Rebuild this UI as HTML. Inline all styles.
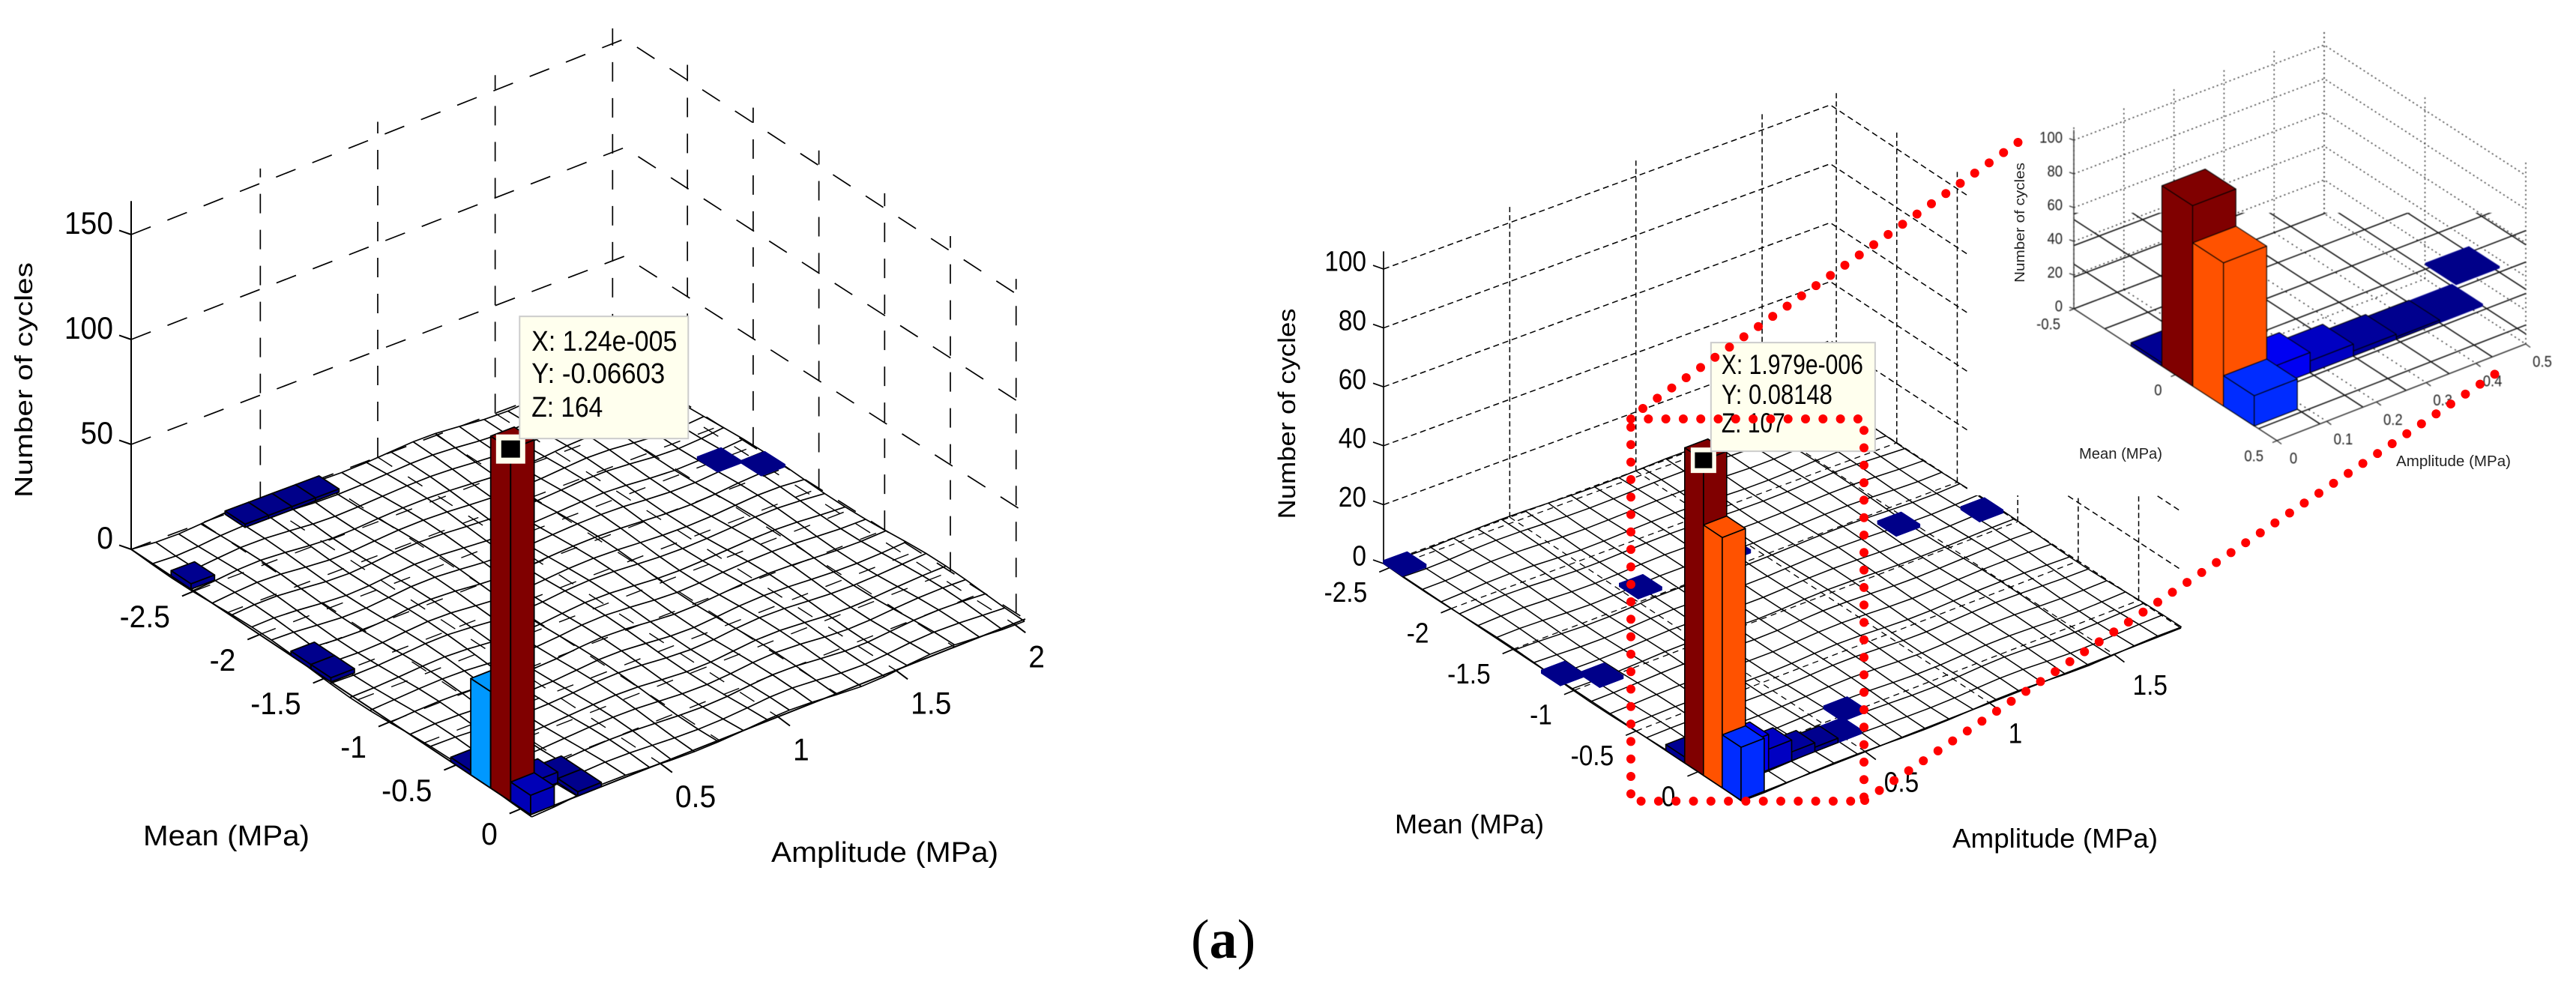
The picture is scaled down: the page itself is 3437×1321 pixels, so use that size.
<!DOCTYPE html>
<html lang="en">
<head>
<meta charset="utf-8">
<title>Rainflow histograms of mean and amplitude stress</title>
<style>
html,body{margin:0;padding:0;background:#fff;}
svg{display:block;font-family:"Liberation Sans",Arial,sans-serif;}
</style>
</head>
<body>
<svg id="fig" xmlns="http://www.w3.org/2000/svg" width="3437" height="1321" viewBox="0 0 3437 1321">
  <rect x="0" y="0" width="3437" height="1321" fill="#fff"/>
  <g id="left-plot"></g>
  <g id="right-plot"></g>
  <rect x="2625" y="0" width="812" height="661" fill="#fff"/>
  <g id="inset-plot" style="filter:blur(0.5px)"></g>

  <text transform="translate(43,507) rotate(-90)" text-anchor="middle" font-size="33" textLength="314" lengthAdjust="spacingAndGlyphs">Number of cycles</text>
  <text x="191" y="1128" font-size="38" textLength="222" lengthAdjust="spacingAndGlyphs">Mean (MPa)</text>
  <text x="1029" y="1150" font-size="38" textLength="303" lengthAdjust="spacingAndGlyphs">Amplitude (MPa)</text>

  <text transform="translate(1728,552) rotate(-90)" text-anchor="middle" font-size="32" textLength="281" lengthAdjust="spacingAndGlyphs">Number of cycles</text>
  <text x="1861" y="1112" font-size="36" textLength="199" lengthAdjust="spacingAndGlyphs">Mean (MPa)</text>
  <text x="2605" y="1131" font-size="36" textLength="274" lengthAdjust="spacingAndGlyphs">Amplitude (MPa)</text>

  <text transform="translate(2701,297) rotate(-90)" text-anchor="middle" font-size="18" fill="#222" textLength="160" lengthAdjust="spacingAndGlyphs">Number of cycles</text>
  <text x="2774" y="612" font-size="20" fill="#222" textLength="111" lengthAdjust="spacingAndGlyphs">Mean (MPa)</text>
  <text x="3197" y="622" font-size="20" fill="#222" textLength="153" lengthAdjust="spacingAndGlyphs">Amplitude (MPa)</text>

  <path d="M2176,559 H2487 V1069 H2176 Z" fill="none" stroke="#f00" stroke-width="12" stroke-linecap="round" stroke-dasharray="0 23.3"/>
  <path d="M2192,545 L2708,179" fill="none" stroke="#f00" stroke-width="12" stroke-linecap="round" stroke-dasharray="0 23.6"/>
  <path d="M2488,1068 L3338,493" fill="none" stroke="#f00" stroke-width="12" stroke-linecap="round" stroke-dasharray="0 23.6"/>

  <text x="1589" y="1278" font-size="74" font-family="'Liberation Serif',serif">(<tspan font-weight="bold">a</tspan>)</text>
</svg>
<script>
// ---- Left chart data ----
const leftAmp   = [0, 0, 0, 0, 0.1, 0.2, 0.2, 0.4, 0.5, 0.6, 0.7, 0, 0, 0, 1.9, 2.0];
const leftMean  = [-0.006, -0.159, -0.311, -0.464, -0.159, -0.159, -0.006, -2.904, -2.904, -2.904, -2.904, -2.599, -1.684, -1.531, -1.989, -1.836];
const leftCount = [9, 164, 45, 2, 5, 2, 2, 1.5, 1.5, 1.5, 1.5, 2.5, 2, 2, 1, 1];
const leftZTicks = [0, 50, 100, 150];
const leftAmpTicks = [0.5, 1, 1.5, 2];
const leftMeanTicks = [-2.5, -2, -1.5, -1, -0.5, 0];
const leftTooltip = ['X: 1.24e-005', 'Y: -0.06603', 'Z: 164'];

// ---- Right chart data ----
const rightAmp   = [0.047, 0.047, 0.047, 0.047, 0.14, 0.233, 0.326, 0.419, 0.513, 0.606, 0.047, 0.559, 1.454, 1.72, 0.028, 0.121, 0.927];
const rightMean  = [0.273, 0.12, -0.032, -0.185, 0.12, 0.12, 0.12, 0.12, 0.12, -0.032, -2.474, -1.604, -1.329, -1.192, -1.154, -1.024, -1.634];
const rightCount = [18, 85, 107, 2, 12, 7, 3, 1.5, 1.2, 1, 1, 1, 1, 1, 1, 1, 1];
const rightZTicks = [0, 20, 40, 60, 80, 100];
const rightAmpTicks = [0.5, 1, 1.5];
const rightMeanTicks = [-2.5, -2, -1.5, -1, -0.5, 0];
const rightTooltip = ['X: 1.979e-006', 'Y: 0.08148', 'Z: 107'];

// ---- Inset data ----
const insetAmp   = [0.043, 0.043, 0.043, 0.043, 0.13, 0.217, 0.303, 0.39, 0.476, 0.571];
const insetMean  = [0.313, 0.162, 0.01, -0.142, 0.162, 0.162, 0.162, 0.162, 0.162, 0.01];
const insetCount = [18, 85, 107, 2, 12, 7, 3, 1.5, 1.2, 1];
const insetZTicks = [0, 20, 40, 60, 80, 100];
const insetAmpTicks = [0, 0.1, 0.2, 0.3, 0.4, 0.5];
const insetMeanTicks = [-0.5, 0, 0.5];

const NS = 'http://www.w3.org/2000/svg';
function make(tag, attrs, parent) {
  const n = document.createElementNS(NS, tag);
  for (const k in attrs) n.setAttribute(k, attrs[k]);
  parent.appendChild(n);
  return n;
}
function clamp(v) { return Math.max(0, Math.min(1, v)); }
function jet(t) {
  const r = clamp(Math.min(4 * t - 1.5, -4 * t + 4.5));
  const g = clamp(Math.min(4 * t - 0.5, -4 * t + 3.5));
  const b = clamp(Math.min(4 * t + 0.5, -4 * t + 2.5));
  return 'rgb(' + Math.round(r * 255) + ',' + Math.round(g * 255) + ',' + Math.round(b * 255) + ')';
}
function project(p, amp, mean, z) {
  const u = (amp - p.ampMin) / (p.ampMax - p.ampMin);
  const v = (mean - p.meanMin) / (p.meanMax - p.meanMin);
  return projectUV(p, u, v, z);
}
function projectUV(p, u, v, z) {
  const a = (1 - u) * (1 - v), b = u * (1 - v), c = (1 - u) * v, d = u * v;
  const x = a * p.L[0] + b * p.B[0] + c * p.F[0] + d * p.R[0];
  const y = a * p.L[1] + b * p.B[1] + c * p.F[1] + d * p.R[1];
  const s = a * p.zs[0] + b * p.zs[1] + c * p.zs[2] + d * p.zs[3];
  return [x, y - z * s];
}
function pts(list) { return list.map(q => q[0].toFixed(1) + ',' + q[1].toFixed(1)).join(' '); }

function drawWalls(g, p) {
  const wall = { fill: 'none', stroke: p.wallColor, 'stroke-width': p.wallWidth, 'stroke-dasharray': p.wallDash };
  p.zTicks.forEach(z => {
    const line = make('polyline', Object.assign({ points: pts([project(p, p.ampMin, p.meanMin, z), project(p, p.ampMax, p.meanMin, z), project(p, p.ampMax, p.meanMax, z)]) }, wall), g);
    
    
  });
  const vert = Object.assign({}, wall, { 'stroke-dasharray': p.vertDash });
  p.ampTicks.forEach(a => {
    const s = project(p, a, p.meanMin, 0), e = project(p, a, p.meanMin, p.zMax);
    const line = make('line', Object.assign({ x1: s[0], y1: s[1], x2: e[0], y2: e[1] }, vert), g);
    
    
  });
  p.meanTicks.forEach(m => {
    const s = project(p, p.ampMax, m, 0), e = project(p, p.ampMax, m, p.zMax);
    const line = make('line', Object.assign({ x1: s[0], y1: s[1], x2: e[0], y2: e[1] }, vert), g);
    
    
  });
}

function drawFloorGrid(g, p) {
  const style = { fill: 'none', stroke: p.wallColor, 'stroke-width': p.floorWidth, 'stroke-dasharray': p.floorDash };
  p.floorAmp.forEach(a => {
    const s = project(p, a, p.meanMin, 0), e = project(p, a, p.meanMax, 0);
    const line = make('line', Object.assign({ x1: s[0], y1: s[1], x2: e[0], y2: e[1] }, style), g);
    
    
  });
  p.floorMean.forEach(m => {
    const s = project(p, p.ampMin, m, 0), e = project(p, p.ampMax, m, 0);
    const line = make('line', Object.assign({ x1: s[0], y1: s[1], x2: e[0], y2: e[1] }, style), g);
    
    
  });
}

function meshPoint(p, i, j) {
  const q = projectUV(p, i / p.na, j / p.nm, 0);
  const w = p.wave;
  return [q[0] + w * 0.5 * Math.sin(i * 1.3 + j * 0.4), q[1] + w * Math.sin(i * 0.9 + j * 0.7)];
}
function drawMesh(g, p) {
  const style = { fill: 'none', stroke: '#000', 'stroke-width': p.meshWidth };
  for (let i = 0; i <= p.na; i++) {
    const list = [];
    for (let j = 0; j <= p.nm; j++) list.push(meshPoint(p, i, j));
    const line = make('polyline', Object.assign({ points: pts(list) }, style), g);
    
    
  }
  for (let j = 0; j <= p.nm; j++) {
    const list = [];
    for (let i = 0; i <= p.na; i++) list.push(meshPoint(p, i, j));
    const line = make('polyline', Object.assign({ points: pts(list) }, style), g);
    
    
  }
}

function drawBars(g, p, amps, means, counts) {
  const order = amps.map((_, i) => i).sort((a, b) => {
    const ya = project(p, amps[a] - p.binAmp / 2, means[a] + p.binMean / 2, 0)[1];
    const yb = project(p, amps[b] - p.binAmp / 2, means[b] + p.binMean / 2, 0)[1];
    return ya - yb;
  });
  order.forEach(i => {
    const a0 = amps[i] - p.binAmp / 2, a1 = amps[i] + p.binAmp / 2;
    const m0 = means[i] - p.binMean / 2, m1 = means[i] + p.binMean / 2;
    const z = counts[i];
    const color = jet(z / p.maxCount);
    const edge = z >= 1.5 ? '#000' : color;
    const group = make('g', { fill: color, stroke: edge, 'stroke-width': p.barStroke, 'stroke-linejoin': 'round' }, g);
    
    
    const left = make('polygon', { points: pts([project(p, a0, m0, 0), project(p, a0, m1, 0), project(p, a0, m1, z), project(p, a0, m0, z)]) }, group);
    
    
    const right = make('polygon', { points: pts([project(p, a0, m1, 0), project(p, a1, m1, 0), project(p, a1, m1, z), project(p, a0, m1, z)]) }, group);
    
    
    const top = make('polygon', { points: pts([project(p, a0, m0, z), project(p, a0, m1, z), project(p, a1, m1, z), project(p, a1, m0, z)]) }, group);
    
    
  });
}

function tickText(g, p, str, x, y, anchor) {
  const t = make('text', {
    transform: 'translate(' + x.toFixed(1) + ',' + (y + p.font * 0.36).toFixed(1) + ') scale(' + p.textScale + ',1)',
    'font-size': p.font, 'text-anchor': anchor, fill: p.textColor
  }, g);
  t.textContent = str;
  return t;
}
function drawAxes(g, p) {
  const edge = { stroke: p.axisColor, 'stroke-width': p.axisWidth, fill: 'none' };
  const zTop = project(p, p.ampMin, p.meanMin, p.zAxisMax), o = project(p, p.ampMin, p.meanMin, 0);
  const zAxis = make('line', Object.assign({ x1: o[0], y1: o[1], x2: zTop[0], y2: zTop[1] }, edge), g);
  
  
  const base = make('polyline', Object.assign({ points: pts([o, project(p, p.ampMin, p.meanMax, 0), project(p, p.ampMax, p.meanMax, 0)]) }, edge), g);
  
  

  p.zTicks.forEach(z => {
    const q = project(p, p.ampMin, p.meanMin, z);
    const mark = make('line', Object.assign({ x1: q[0], y1: q[1], x2: q[0] - p.tick, y2: q[1] - p.tick * 0.35 }, edge), g);
    
    
    const t = tickText(g, p, String(z), q[0] + p.zLabel[0], q[1] + p.zLabel[1], 'end');
    
    
  });
  p.ampTicks.forEach(a => {
    const q = project(p, a, p.meanMax, 0);
    const mark = make('line', Object.assign({ x1: q[0], y1: q[1], x2: q[0] + p.tick, y2: q[1] + p.tick * 0.75 }, edge), g);
    
    
    const t = tickText(g, p, String(a), q[0] + p.ampLabel[0], q[1] + p.ampLabel[1], p.ampAnchor);
    
    
  });
  p.meanTicks.forEach(m => {
    const q = project(p, p.ampMin, m, 0);
    const mark = make('line', Object.assign({ x1: q[0], y1: q[1], x2: q[0] - p.tick, y2: q[1] + p.tick * 0.42 }, edge), g);
    
    
    const t = tickText(g, p, String(m), q[0] + p.meanLabel[0], q[1] + p.meanLabel[1], 'end');
    
    
  });
}

function drawTooltip(g, p, amps, means, counts, lines) {
  let k = 0;
  counts.forEach((c, i) => { if (c > counts[k]) k = i; });
  const q = project(p, amps[k] - p.binAmp / 2, means[k] + p.binMean / 2, counts[k]);
  const tip = p.tip;
  const marker = make('rect', { x: q[0] - tip.box / 2, y: q[1] - tip.box / 2, width: tip.box, height: tip.box, fill: '#ffffee' }, g);
  
  
  const inner = make('rect', { x: q[0] - tip.inner / 2, y: q[1] - tip.inner * 0.46, width: tip.inner, height: tip.inner * 0.92, fill: '#000' }, g);
  
  
  const box = make('rect', { x: q[0] + tip.dx, y: q[1] + tip.dy, width: tip.w, height: tip.h, fill: '#ffffee', stroke: '#cccccc', 'stroke-width': 2 }, g);
  
  
  lines.forEach((str, i) => {
    const t = make('text', { x: q[0] + tip.dx + tip.pad, y: q[1] + tip.dy + tip.base[i], 'font-size': tip.font, fill: '#000', textLength: tip.len[i], lengthAdjust: 'spacingAndGlyphs' }, g);
    
    
    t.textContent = str;
  });
}

const pLeft = {
  L: [175, 733], B: [833, 487], R: [1368, 826], F: [708, 1087], zs: [2.8, 2.9, 2.87, 2.84],
  ampMin: -0.05, ampMax: 2.05, meanMin: -2.98, meanMax: 0.07, binAmp: 0.1, binMean: 0.1525,
  na: 21, nm: 20, wave: 3, meshWidth: 1.7, zMax: 157, zAxisMax: 166, maxCount: 164, barStroke: 1.8,
  wallColor: '#000', wallWidth: 1.7, floorWidth: 1.4, wallDash: '28 24', vertDash: '26 22', floorDash: '23 25',
  floorAmp: [0.25, 0.5, 0.75, 1, 1.25, 1.5, 1.75, 2], floorMean: [-2.5, -2.25, -2, -1.75, -1.5, -1.25, -1, -0.75, -0.5, -0.25],
  zTicks: leftZTicks, ampTicks: leftAmpTicks, meanTicks: leftMeanTicks,
  axisColor: '#000', axisWidth: 2, tick: 16, font: 42, textScale: 0.93, textColor: '#000',
  zLabel: [-24, -16], ampLabel: [20, 43], ampAnchor: 'start', meanLabel: [-32, 33],
  tip: { box: 39, inner: 25, dx: 12, dy: -177, w: 225, h: 163, pad: 16, base: [46, 89, 134], font: 38, len: [194, 178, 95] }
};
const pRight = {
  L: [1846, 752], B: [2442, 533], R: [2910, 838], F: [2323, 1068], zs: [3.93, 3.93, 3.93, 3.89],
  ampMin: 0, ampMax: 1.77, meanMin: -2.55, meanMax: 0.35, binAmp: 0.0932, binMean: 0.1526,
  na: 19, nm: 19, wave: 1.6, meshWidth: 1.5, zMax: 106, zAxisMax: 106, maxCount: 107, barStroke: 1.6,
  wallColor: '#000', wallWidth: 1.5, floorWidth: 1.3, wallDash: '8 5', vertDash: '7 4', floorDash: '8 6',
  floorAmp: [0.5, 1, 1.5], floorMean: [-2.5, -2, -1.5, -1, -0.5, 0],
  zTicks: rightZTicks, ampTicks: rightAmpTicks, meanTicks: rightMeanTicks,
  axisColor: '#000', axisWidth: 1.7, tick: 14, font: 38, textScale: 0.88, textColor: '#000',
  zLabel: [-23, -11], ampLabel: [25, 40], ampAnchor: 'start', meanLabel: [-30, 32],
  tip: { box: 34, inner: 23, dx: 10, dy: -157, w: 219, h: 145, pad: 14, base: [42, 82, 120], font: 37, len: [189, 148, 85] }
};
const pInset = {
  L: [2767, 412], B: [3101, 285], R: [3370, 459], F: [3038, 588], zs: [2.25, 2.25, 2.25, 2.25],
  ampMin: 0, ampMax: 0.5, meanMin: -0.5, meanMax: 0.5, binAmp: 0.0866, binMean: 0.1515,
  zMax: 108, zAxisMax: 106, maxCount: 107, barStroke: 1.1,
  wallColor: '#222', wallWidth: 1.4, floorWidth: 1.4, wallDash: '2 4', vertDash: '2 4', floorDash: '2 5',
  floorAmp: [0.1, 0.2, 0.3, 0.4], floorMean: [0],
  zTicks: insetZTicks, ampTicks: insetAmpTicks, meanTicks: insetMeanTicks,
  axisColor: '#333', axisWidth: 1.4, tick: 6, font: 21, textScale: 0.88, textColor: '#222',
  zLabel: [-15, -4], ampLabel: [22, 23], ampAnchor: 'middle', meanLabel: [-18, 20]
};

function drawInsetMesh(g, p) {
  const cp = make('clipPath', { id: 'inset-clip' }, g);
  const poly = make('polygon', { points: '2767,412 2767,284 3370,284 3370,459 3038,588' }, cp);
  
  
  const mesh = make('g', { 'clip-path': 'url(#inset-clip)', stroke: '#111', 'stroke-width': 1.6, fill: 'none' }, g);
  
  
  for (let k = -3; k <= 7; k++) {
    const m = k === 7 ? p.meanMax : p.meanMin + k * p.binMean;
    const s = project(p, -0.6, m, 0), e = project(p, 1.2, m, 0);
    const line = make('line', { x1: s[0], y1: s[1], x2: e[0], y2: e[1] }, mesh);
    
    
  }
  for (let i = 0; i <= 9; i++) {
    const a = i * p.binAmp;
    const s = project(p, a, -2, 0), e = project(p, a, p.meanMax, 0);
    const line = make('line', { x1: s[0], y1: s[1], x2: e[0], y2: e[1] }, mesh);
    
    
  }
}

const gLeft = document.getElementById('left-plot');
drawWalls(gLeft, pLeft);
drawFloorGrid(gLeft, pLeft);
drawMesh(gLeft, pLeft);
drawAxes(gLeft, pLeft);
drawBars(gLeft, pLeft, leftAmp, leftMean, leftCount);
drawTooltip(gLeft, pLeft, leftAmp, leftMean, leftCount, leftTooltip);

const gRight = document.getElementById('right-plot');
drawWalls(gRight, pRight);
drawFloorGrid(gRight, pRight);
drawMesh(gRight, pRight);
drawAxes(gRight, pRight);
drawBars(gRight, pRight, rightAmp, rightMean, rightCount);
drawTooltip(gRight, pRight, rightAmp, rightMean, rightCount, rightTooltip);

const gInset = document.getElementById('inset-plot');
drawWalls(gInset, pInset);
drawFloorGrid(gInset, pInset);
drawInsetMesh(gInset, pInset);
drawAxes(gInset, pInset);
drawBars(gInset, pInset, insetAmp, insetMean, insetCount);
</script>
</body>
</html>
